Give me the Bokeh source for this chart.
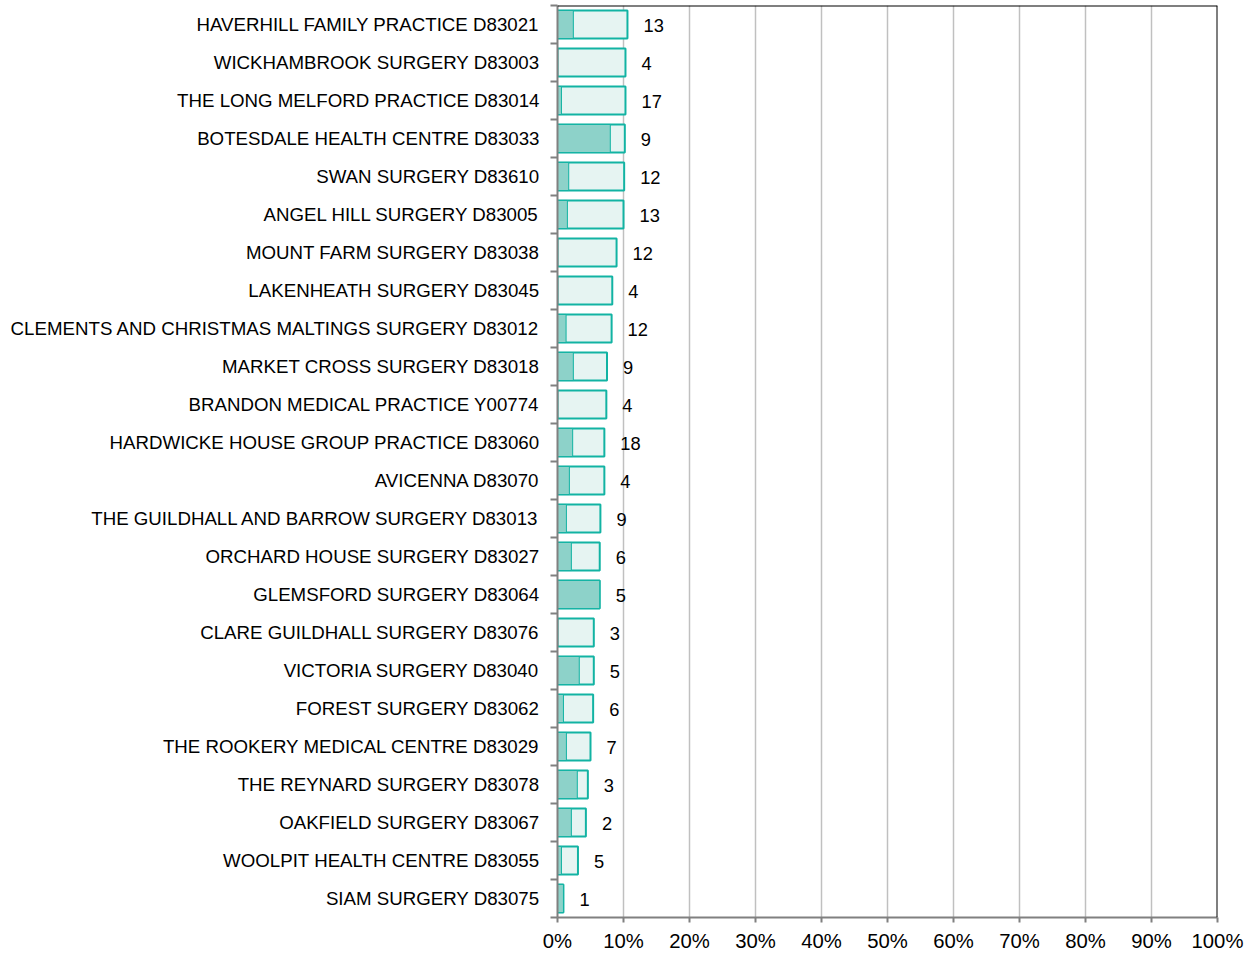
from bokeh.plotting import figure
from bokeh.models import Range1d, FixedTicker, NumeralTickFormatter, Span, ColumnDataSource
from bokeh.embed import file_html
from bokeh.resources import INLINE

practices = [
    "HAVERHILL FAMILY PRACTICE D83021",
    "WICKHAMBROOK SURGERY D83003",
    "THE LONG MELFORD PRACTICE D83014",
    "BOTESDALE HEALTH CENTRE D83033",
    "SWAN SURGERY D83610",
    "ANGEL HILL SURGERY D83005",
    "MOUNT FARM SURGERY D83038",
    "LAKENHEATH SURGERY D83045",
    "CLEMENTS AND CHRISTMAS MALTINGS SURGERY D83012",
    "MARKET CROSS SURGERY D83018",
    "BRANDON MEDICAL PRACTICE Y00774",
    "HARDWICKE HOUSE GROUP PRACTICE D83060",
    "AVICENNA D83070",
    "THE GUILDHALL AND BARROW SURGERY D83013",
    "ORCHARD HOUSE SURGERY D83027",
    "GLEMSFORD SURGERY D83064",
    "CLARE GUILDHALL SURGERY D83076",
    "VICTORIA SURGERY D83040",
    "FOREST SURGERY D83062",
    "THE ROOKERY MEDICAL CENTRE D83029",
    "THE REYNARD SURGERY D83078",
    "OAKFIELD SURGERY D83067",
    "WOOLPIT HEALTH CENTRE D83055",
    "SIAM SURGERY D83075",
]
total_pct = [10.6, 10.3, 10.3, 10.2, 10.1, 10.0, 8.95, 8.3, 8.2, 7.5, 7.4, 7.1,
             7.1, 6.5, 6.4, 6.4, 5.5, 5.5, 5.4, 5.0, 4.6, 4.3, 3.1, 0.9]
inner_pct = [2.4, 0.0, 0.6, 8.0, 1.7, 1.5, 0.0, 0.0, 1.3, 2.4, 0.0, 2.3,
             1.8, 1.35, 2.1, 6.4, 0.0, 3.3, 0.9, 1.35, 3.0, 2.1, 0.6, 0.9]
counts = [13, 4, 17, 9, 12, 13, 12, 4, 12, 9, 4, 18, 4, 9, 6, 5, 3, 5, 6, 7, 3, 2, 5, 1]
x_ticks = [0.0, 0.1, 0.2, 0.3, 0.4, 0.5, 0.6, 0.7, 0.8, 0.9, 1.0]

n = len(practices)
ypos = [n - i - 0.5 for i in range(n)]
src = ColumnDataSource(dict(
    y=ypos,
    total=[v / 100 for v in total_pct],
    inner=[v / 100 for v in inner_pct],
    label=[str(c) for c in counts],
))

FONT = "Liberation Sans"
TEAL = "#12B3A3"

p = figure(width=1244, height=954, output_backend="svg", toolbar_location=None,
           x_range=Range1d(0, 1), y_range=Range1d(0, n),
           min_border_left=557, min_border_right=27, min_border_top=5, min_border_bottom=37)
p.outline_line_color = None
p.background_fill_color = "white"

p.hbar(y="y", left=0, right="total", height=0.74, source=src,
       fill_color="#E6F4F2", line_color=TEAL, line_width=2)
p.hbar(y="y", left=0, right="inner", height=0.74, source=src,
       fill_color="#8DD2C9", line_color=TEAL, line_width=1)
p.text(x="total", y="y", text="label", source=src, x_offset=16, y_offset=1,
       text_align="left", text_baseline="middle", text_font_size="18.3px",
       text_color="#000000", text_font={"value": FONT})

# axes
p.xaxis.ticker = FixedTicker(ticks=x_ticks)
p.xaxis.formatter = NumeralTickFormatter(format="0%")
p.xaxis.axis_line_color = "#808080"
p.xaxis.axis_line_width = 2
p.xaxis.major_tick_line_color = "#808080"
p.xaxis.major_tick_line_width = 2
p.xaxis.major_tick_out = 5
p.xaxis.major_tick_in = 0
p.xaxis.minor_tick_line_color = None
p.xaxis.major_label_text_font = FONT
p.xaxis.major_label_text_font_size = "20.3px"
p.xaxis.major_label_text_color = "#000000"
p.xaxis.major_label_standoff = 7

p.yaxis.ticker = FixedTicker(ticks=ypos, minor_ticks=list(range(n + 1)))
p.yaxis.major_label_overrides = {ypos[i]: practices[i] for i in range(n)}
p.yaxis.axis_line_color = "#808080"
p.yaxis.axis_line_width = 2
p.yaxis.major_tick_line_color = None
p.yaxis.major_tick_out = 0
p.yaxis.major_tick_in = 0
p.yaxis.minor_tick_line_color = "#808080"
p.yaxis.minor_tick_line_width = 2
p.yaxis.minor_tick_out = 7
p.yaxis.minor_tick_in = 0
p.yaxis.major_label_text_font = FONT
p.yaxis.major_label_text_font_size = "18.7px"
p.yaxis.major_label_text_color = "#000000"
p.yaxis.major_label_standoff = 11

p.xgrid.ticker = FixedTicker(ticks=x_ticks)
p.xgrid.grid_line_color = "#C0C0C0"
p.xgrid.grid_line_width = 1.5
p.ygrid.grid_line_color = None

p.add_layout(Span(location=1.0, dimension="height", line_color="black", line_width=2))
p.add_layout(Span(location=n, dimension="width", line_color="black", line_width=2))

open("out.html", "w").write(file_html(p, INLINE))
